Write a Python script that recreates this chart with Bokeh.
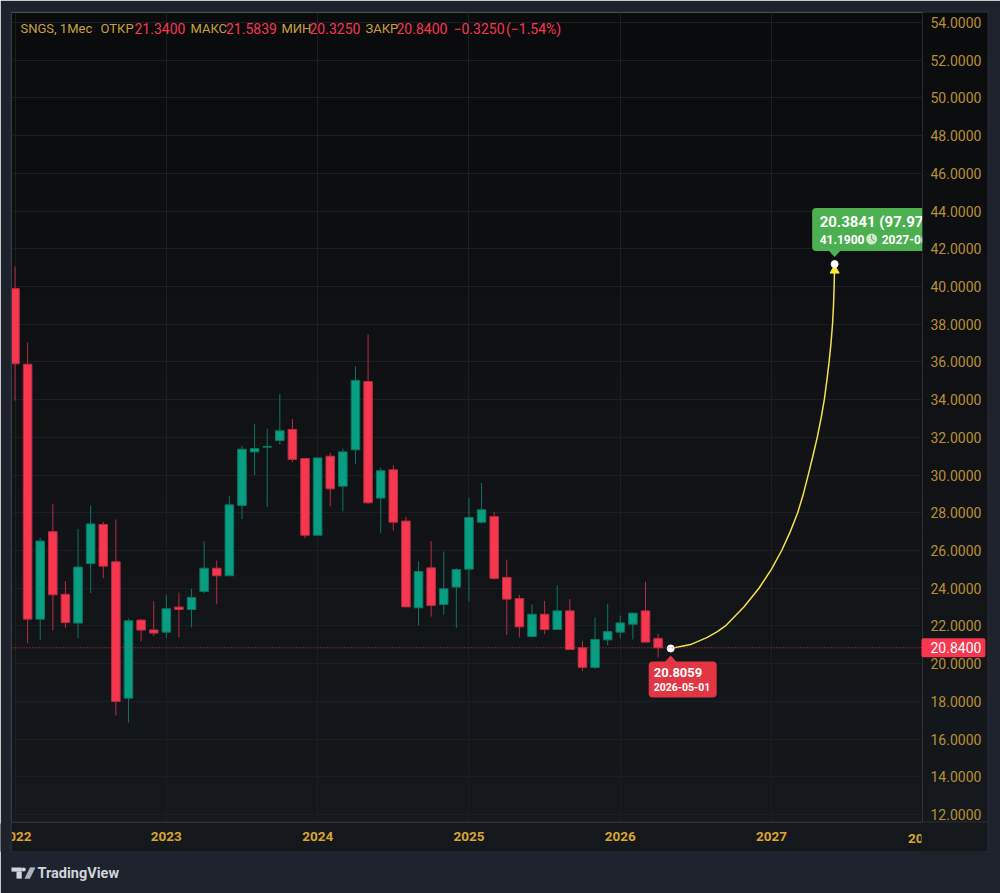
from bokeh.plotting import figure
from bokeh.embed import file_html
from bokeh.resources import INLINE
from bokeh.core.properties import value
from bokeh.models import (BoxAnnotation, ColumnDataSource, FixedTicker, Label,
                          NumeralTickFormatter, Range1d, Span)

# monthly bars, index 0 = 2022-01
opens = [39.89, 35.88, 22.36, 27.0, 23.68, 22.15, 25.31, 27.38, 25.4, 18.17, 22.31, 21.79,
         21.67, 23.0, 22.87, 23.83, 25.06, 24.66, 28.39, 31.23, 31.48, 31.83, 32.42, 30.88,
         26.81, 31.0, 29.41, 31.34, 34.96, 28.78, 30.28, 27.56, 22.96, 25.08, 23.14, 24.06,
         25.01, 27.5, 27.8, 24.57, 23.45, 21.44, 22.62, 21.81, 22.8, 20.84, 19.8, 21.26,
         21.67, 22.09, 22.8, 21.34]
highs = [41.06, 37.03, 26.67, 28.47, 24.37, 27.15, 28.39, 27.52, 27.64, 22.39, 22.36, 23.31,
         23.65, 23.77, 23.97, 26.5, 25.47, 28.88, 31.55, 32.72, 32.47, 34.31, 32.98, 30.9,
         30.91, 31.18, 31.41, 35.76, 37.46, 30.4, 30.54, 27.79, 25.43, 26.5, 25.95, 25.06,
         28.79, 29.59, 28.05, 25.52, 23.65, 23.14, 23.33, 24.14, 23.42, 21.21, 22.45, 23.17,
         22.55, 22.68, 24.34, 21.5839]
lows = [33.95, 21.09, 21.26, 21.76, 21.9, 21.35, 23.74, 24.53, 17.25, 16.88, 21.19, 21.46,
        21.35, 21.4, 21.93, 23.74, 23.15, 24.66, 27.66, 30.0, 28.3, 31.62, 30.68, 26.65,
        26.81, 28.35, 28.07, 30.6, 28.48, 26.92, 27.06, 23.01, 22.02, 22.5, 22.6, 21.9,
        23.31, 27.43, 24.46, 21.53, 21.39, 21.39, 21.56, 21.81, 20.75, 19.6, 19.71, 20.98,
        21.35, 21.28, 21.14, 20.325]
closes = [35.9, 22.36, 26.5, 23.65, 22.18, 25.12, 27.41, 25.17, 17.99, 22.27, 21.78, 21.62,
          22.91, 22.87, 23.51, 25.06, 24.66, 28.42, 31.37, 31.41, 31.52, 32.35, 30.83, 26.81,
          30.91, 29.27, 31.23, 35.02, 28.53, 30.23, 27.5, 23.01, 24.89, 23.08, 23.97, 24.99,
          27.75, 28.16, 24.52, 23.42, 21.95, 22.62, 21.81, 22.8, 20.75, 19.8, 21.28, 21.7,
          22.16, 22.68, 21.14, 20.84]

# projection curve
curve_x = [52, 53.57, 54.9, 55.7, 56.34, 57.8, 59.0, 59.98, 60.8, 61.48, 62.07, 62.52, 62.9,
           63.27, 63.62, 63.92, 64.18, 64.38, 64.56, 64.71, 64.83, 64.91, 64.96, 65]
curve_y = [20.8059, 21.01, 21.39, 21.7, 22, 23, 24, 25, 26, 27, 28, 29, 30,
           31, 32, 33, 34, 35, 36, 37, 38, 39, 40, 41.19]

year_ticks = [0, 12, 24, 36, 48, 60]
year_labels = ["2022", "2023", "2024", "2025", "2026", "2027"]
price_ticks = list(range(12, 56, 2))
last_price = 20.84

# pixels of the frame, in window coordinates
FRAME_L, FRAME_R, FRAME_T, FRAME_B = 11, 922, 12, 822
WIDTH, HEIGHT = 1000, 893
BAR_PX = 12.61
PRICE_PX = 18.857
OUTER = "#1e222d"
EDGE = "#2a2e39"
RED = "#f7374f"
GREEN = "#089e81"
GOLD = "#b98f35"
LEGEND_GOLD = "#c9a03a"
YEAR_GOLD = "#dba42e"
LOGO = "#d1d4dc"
FONT = "Roboto"
CANVAS = dict(left_units="canvas", right_units="canvas", top_units="canvas", bottom_units="canvas")


def idx_at(px):
    return (px - 14.5) / BAR_PX


def price_at(px):
    return 12 + (814 - px) / PRICE_PX


def px_of_price(v):
    return 814 - (v - 12) * PRICE_PX


def fill_box(x0, x1, y0, y1, color, level="guide", radius=0):
    # a box annotation is clipped to the frame, a label in a side panel is not
    w, h = round(x1 - x0), round(y1 - y0)
    p.add_layout(Label(x=x0, y=y0, x_units="canvas", y_units="canvas", text=" ", text_font_size="1px",
                       text_baseline="top", background_fill_color=color, padding=(w, 0, max(h - 1, 0), 0),
                       border_radius=radius, level=level), "below")


p = figure(width=WIDTH, height=HEIGHT, output_backend="svg", toolbar_location=None, tools="",
           x_range=Range1d(idx_at(FRAME_L), idx_at(FRAME_R)),
           y_range=Range1d(price_at(FRAME_B), price_at(FRAME_T)),
           y_axis_location="right", min_border_left=FRAME_L, min_border_top=FRAME_T,
           min_border_right=WIDTH - FRAME_R, min_border_bottom=HEIGHT - FRAME_B,
           frame_width=FRAME_R - FRAME_L, frame_height=FRAME_B - FRAME_T)
p.outline_line_color = None
p.background_fill_color = None
p.border_fill_color = OUTER

# panel gradient
top_rgb, bottom_rgb = (10, 11, 13), (21, 24, 28)
n_bands = 21
band_h = 840 / n_bands
for i in range(n_bands):
    t = i / (n_bands - 1)
    rgb = "#%02x%02x%02x" % tuple(round(a + (b - a) * t) for a, b in zip(top_rgb, bottom_rgb))
    y0 = 12 + i * band_h
    p.add_layout(BoxAnnotation(left=11, right=988, top=y0, bottom=y0 + band_h + 1, fill_color=rgb,
                               fill_alpha=1, line_color=None, level="image", **CANVAS))
    if y0 < FRAME_B:
        fill_box(FRAME_R, 988, y0, y0 + band_h + 1, rgb)
fill_box(11, 988, FRAME_B, 852, "#14171b")

p.xaxis.ticker = FixedTicker(ticks=year_ticks)
p.xaxis.major_label_overrides = dict(zip(year_ticks, year_labels))
p.xaxis.axis_line_color = None
p.xaxis.major_tick_line_color = None
p.xaxis.major_tick_out = 0
p.xaxis.minor_tick_line_color = None
p.xaxis.major_label_standoff = 9
p.xaxis.major_label_text_color = YEAR_GOLD
p.xaxis.major_label_text_font = FONT
p.xaxis.major_label_text_font_style = "bold"
p.xaxis.major_label_text_font_size = "13.5px"
p.xaxis.level = "annotation"

p.yaxis.ticker = FixedTicker(ticks=price_ticks)
p.yaxis.formatter = NumeralTickFormatter(format="0.0000")
p.yaxis.axis_line_color = None
p.yaxis.major_tick_line_color = None
p.yaxis.major_tick_out = 0
p.yaxis.minor_tick_line_color = None
p.yaxis.major_label_standoff = 8
p.yaxis.major_label_text_color = GOLD
p.yaxis.major_label_text_font = FONT
p.yaxis.major_label_text_font_size = "14px"
p.yaxis.level = "annotation"

p.xgrid.ticker = FixedTicker(ticks=year_ticks)
p.ygrid.ticker = FixedTicker(ticks=price_ticks)
p.grid.grid_line_color = "#1b1e22"
p.grid.grid_line_width = 1

# candles
bar_index = list(range(len(opens)))
is_up = [c >= o for o, c in zip(opens, closes)]
source = ColumnDataSource(data=dict(
    x=bar_index,
    top=[max(o, c) for o, c in zip(opens, closes)],
    bottom=[min(o, c) for o, c in zip(opens, closes)],
    high=highs,
    low=lows,
    fill=[GREEN if u else RED for u in is_up],
    edge=["#0b7664" if u else "#b72e40" for u in is_up],
))
p.segment(x0="x", x1="x", y0="low", y1="high", line_color="edge", line_width=1, source=source)
p.vbar(x="x", width=0.68, top="top", bottom="bottom", fill_color="fill", line_color="edge",
       line_width=1, source=source)

p.add_layout(Span(location=last_price, dimension="width", line_color=RED, line_alpha=0.9,
                  line_width=1, line_dash="1 2"))

# projection
p.line(curve_x, curve_y, line_color="#f2e24a", line_width=1.5)
end_x, end_y = curve_x[-1], curve_y[-1]
start_x, start_y = curve_x[0], curve_y[0]
p.patch([end_x - 4.5 / BAR_PX, end_x, end_x + 4.5 / BAR_PX],
        [end_y - 9 / PRICE_PX, end_y - 1 / PRICE_PX, end_y - 9 / PRICE_PX],
        fill_color="#fbe83c", line_color="#fbe83c", line_width=1)
p.scatter([start_x, end_x], [start_y, end_y], size=7, marker="circle", fill_color="white",
          line_color="white")

# target callout, clipped by the frame like the original
p.quad(left=[end_x - 22.5 / BAR_PX], right=[end_x + 110 / BAR_PX], top=[end_y + 56 / PRICE_PX],
       bottom=[end_y + 13 / PRICE_PX], fill_color="#4caf50", line_color=None, border_radius=4)
p.patch([end_x - 6 / BAR_PX, end_x, end_x + 6 / BAR_PX],
        [end_y + 13.5 / PRICE_PX, end_y + 7 / PRICE_PX, end_y + 13.5 / PRICE_PX],
        fill_color="#4caf50", line_color=None)
p.text([end_x], [end_y], text=["20.3841 (97.97%)"], x_offset=-15, y_offset=-42,
       text_color="white", text_font=value(FONT), text_font_size="15px", text_font_style="bold",
       text_baseline="middle")
p.text([end_x], [end_y], text=["41.1900"], x_offset=-15, y_offset=-25, text_color="#ffffff",
       text_font=value(FONT), text_font_size="12px", text_font_style="bold", text_baseline="middle")
p.scatter([end_x + 37 / BAR_PX], [end_y + 25 / PRICE_PX], size=11, marker="circle",
          fill_color="#cfe8d0", line_color=None)
p.multi_line([[end_x + 37 / BAR_PX, end_x + 37 / BAR_PX, end_x + 40 / BAR_PX]],
             [[end_y + 29 / PRICE_PX, end_y + 25 / PRICE_PX, end_y + 23 / PRICE_PX]],
             line_color="#4caf50", line_width=1)
p.text([end_x], [end_y], text=["2027-06-01"], x_offset=47, y_offset=-25, text_color="#ffffff",
       text_font=value(FONT), text_font_size="12px", text_font_style="bold", text_baseline="middle")

# current point callout
p.quad(left=[start_x - 22 / BAR_PX], right=[start_x + 46 / BAR_PX], top=[start_y - 13 / PRICE_PX],
       bottom=[start_y - 49 / PRICE_PX], fill_color="#e23644", line_color=None, border_radius=4)
p.patch([start_x - 6 / BAR_PX, start_x, start_x + 6 / BAR_PX],
        [start_y - 13.5 / PRICE_PX, start_y - 7 / PRICE_PX, start_y - 13.5 / PRICE_PX],
        fill_color="#e23644", line_color=None)
p.text([start_x], [start_y], text=["20.8059"], x_offset=-17, y_offset=24, text_color="white",
       text_font=value(FONT), text_font_size="13px", text_font_style="bold", text_baseline="middle")
p.text([start_x], [start_y], text=["2026-05-01"], x_offset=-17, y_offset=39, text_color="white",
       text_font=value(FONT), text_font_size="10.5px", text_font_style="bold", text_baseline="middle")

# the year cut off at the right, the left one is cut the same way
p.add_layout(Label(x=923, y=838, x_units="canvas", y_units="canvas", text="2028",
                   text_align="center", text_baseline="middle", text_color=YEAR_GOLD,
                   text_font=FONT, text_font_style="bold", text_font_size="13.5px"), "below")
fill_box(921, 987, 823, 851, "#14171b", level="overlay")
fill_box(0, 11, 823, 851, OUTER, level="overlay")

# panel edges
fill_box(11, 988, 11, 12, EDGE, level="overlay")
fill_box(11, 988, 851, 852, EDGE, level="overlay")
fill_box(11, 988, 821, 822, EDGE, level="overlay")
fill_box(10, 11, 11, 852, EDGE, level="overlay")
fill_box(987, 988, 11, 852, EDGE, level="overlay")

# last price tag
p.add_layout(Label(x=921, y=px_of_price(last_price), x_units="canvas", y_units="canvas",
                   text="20.8400", text_baseline="middle", text_color="white", text_font=FONT,
                   text_font_size="14px", background_fill_color=RED, padding=(9, 4, 4, 4),
                   border_radius=2, level="overlay"), "below")

# legend row
legend_parts = [("SNGS, 1Мес", 20, LEGEND_GOLD), ("ОТКР", 100, LEGEND_GOLD), ("21.3400", 134, RED),
                ("МАКС", 190, LEGEND_GOLD), ("21.5839", 225.5, RED), ("МИН", 281, LEGEND_GOLD),
                ("20.3250", 309, RED), ("ЗАКР", 365, LEGEND_GOLD), ("20.8400", 396, RED),
                ("−0.3250", 453, RED), ("(−1.54%)", 505.5, RED)]
for text, x, color in legend_parts:
    p.add_layout(Label(x=x, y=28, x_units="canvas", y_units="canvas", text=text,
                       text_baseline="middle", text_color=color, text_font=FONT,
                       text_font_size="13px" if color == LEGEND_GOLD else "14px"))

# logo
fill_box(11, 21, 867, 871, LOGO)
fill_box(16, 21, 871, 878, LOGO)
fill_box(21, 25, 867, 871, LOGO, radius=2)
for row in range(11):
    fill_box(29.3 - row * 0.5, 34 - row * 0.5, 867 + row, 868 + row, LOGO)
p.add_layout(Label(x=37, y=873, x_units="canvas", y_units="canvas", text="TradingView",
                   text_baseline="middle", text_color=LOGO, text_font=FONT,
                   text_font_style="bold", text_font_size="14.5px"), "below")

open("out.html", "w").write(file_html(p, INLINE))
